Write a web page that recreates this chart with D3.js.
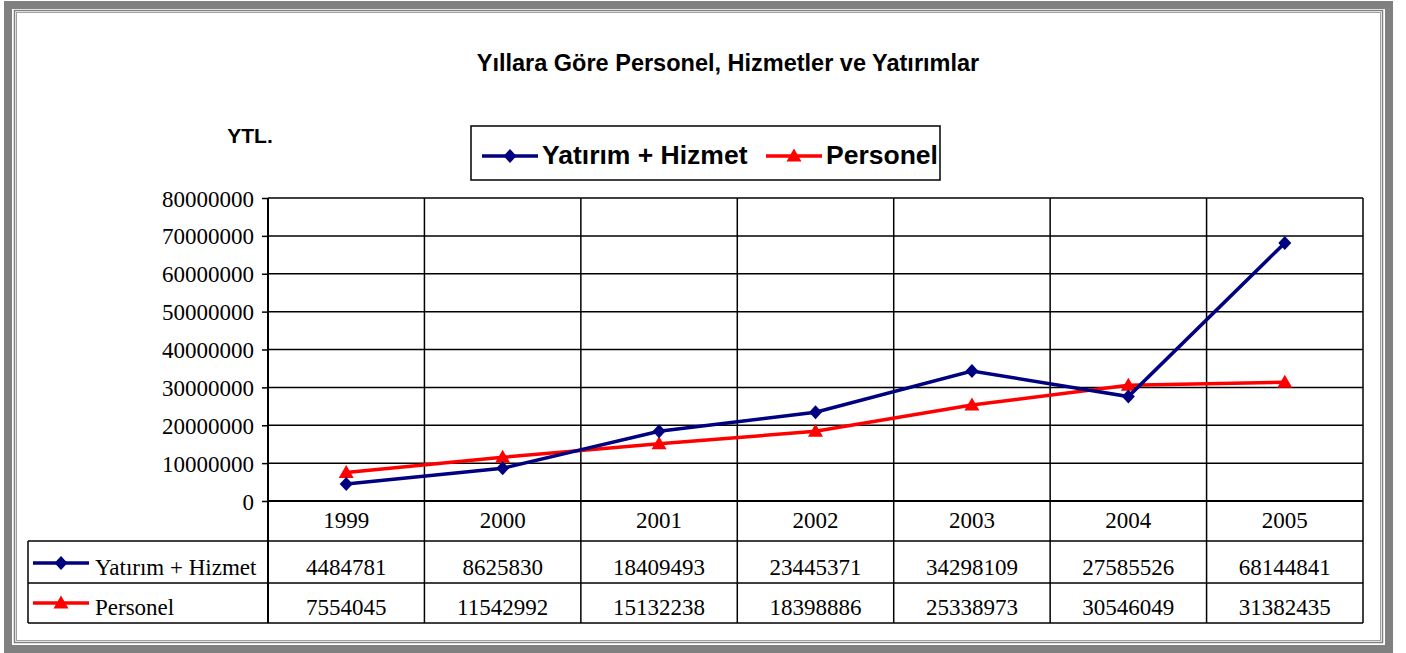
<!DOCTYPE html>
<html><head><meta charset="utf-8">
<script src="https://cdn.jsdelivr.net/npm/d3@7/dist/d3.min.js"></script>
<style>body{margin:0;background:#fff}svg{display:block}
.serif{font-family:"Liberation Serif",Tinos,"Times New Roman",Times,"DejaVu Serif",serif}
.sans{font-family:"Liberation Sans",Arimo,Arial,Helvetica,sans-serif}
</style>
</head><body>
<svg id="c" width="1406" height="653"></svg>
<script>
const years = ["1999","2000","2001","2002","2003","2004","2005"];
const yatirimHizmet = [4484781, 8625830, 18409493, 23445371, 34298109, 27585526, 68144841];
const personel = [7554045, 11542992, 15132238, 18398886, 25338973, 30546049, 31382435];
const seriesNames = ["Yatırım + Hizmet", "Personel"];
const yTicks = [0,10000000,20000000,30000000,40000000,50000000,60000000,70000000,80000000];
const titleText = "Yıllara Göre Personel, Hizmetler ve Yatırımlar";
const unitText = "YTL.";

const svg = d3.select("#c");
const navy = "#000080", red = "#ff0000";

// Frame
svg.append("rect").attr("x",8).attr("y",5).attr("width",1381).attr("height",644)
  .attr("fill","none").attr("stroke","#808080").attr("stroke-width",8);
svg.append("rect").attr("x",14.5).attr("y",10.5).attr("width",1368).attr("height",632)
  .attr("fill","none").attr("stroke","#808080").attr("stroke-width",1.5);
svg.append("rect").attr("x",16.5).attr("y",12.5).attr("width",1364).attr("height",628)
  .attr("fill","none").attr("stroke","#a0a0a0").attr("stroke-width",1);

const L = 268, R = 1363, T = 198, B = 501;
const x = d3.scaleBand().domain(years).range([L, R]);
const y = d3.scaleLinear().domain([0, 80000000]).range([B, T]);

// Title
svg.append("text").attr("class","sans").attr("x",728).attr("y",71).attr("text-anchor","middle")
  .attr("font-weight","bold").attr("font-size",23.5).text(titleText);
svg.append("text").attr("class","sans").attr("x",250).attr("y",143).attr("text-anchor","middle")
  .attr("font-weight","bold").attr("font-size",21).text(unitText);

// Gridlines
svg.append("g").selectAll("line").data(yTicks).join("line")
  .attr("x1",L).attr("x2",R).attr("y1",d=>y(d)).attr("y2",d=>y(d))
  .attr("stroke","#000").attr("stroke-width",d=>d===0?2:1.5);
const bounds = years.map(d=>x(d)).concat([R]);
svg.append("g").selectAll("line").data(bounds).join("line")
  .attr("x1",d=>d).attr("x2",d=>d).attr("y1",T).attr("y2",623)
  .attr("stroke","#000").attr("stroke-width",d=>d===L?2:1.5);

// Y axis
const yAxis = svg.append("g").attr("transform",`translate(${L},0)`)
  .call(d3.axisLeft(y).tickValues(yTicks).tickSize(6).tickPadding(8).tickFormat(d3.format("d")));
yAxis.select(".domain").remove();
yAxis.selectAll("line").attr("stroke","#000").attr("stroke-width",1.5);
yAxis.selectAll("text").attr("class","serif").attr("font-family",null).attr("font-size",23).attr("fill","#000").attr("dy","0.35em");

// Year labels
svg.append("g").selectAll("text").data(years).join("text").attr("class","serif")
  .attr("x",d=>x(d)+x.bandwidth()/2).attr("y",528).attr("text-anchor","middle")
  .attr("font-size",23).text(d=>d);

// Table lines
[541,583,623].forEach(yy=>{
  svg.append("line").attr("x1",28).attr("x2",R).attr("y1",yy).attr("y2",yy)
    .attr("stroke","#000").attr("stroke-width",1.5);
});
svg.append("line").attr("x1",28).attr("x2",28).attr("y1",541).attr("y2",623).attr("stroke","#000").attr("stroke-width",1.5);

const diamondType = {draw(ctx){ ctx.moveTo(0,-7); ctx.lineTo(6.5,0); ctx.lineTo(0,7); ctx.lineTo(-6.5,0); ctx.closePath(); }};
const triangleType = {draw(ctx){ ctx.moveTo(0,-7.5); ctx.lineTo(7.5,5.5); ctx.lineTo(-7.5,5.5); ctx.closePath(); }};
const diamond = d3.symbol().type(diamondType);
const triangle = d3.symbol().type(triangleType);

const series = [
  {name: seriesNames[0], values: yatirimHizmet, color: navy, sym: diamond, rowY: 567},
  {name: seriesNames[1], values: personel, color: red, sym: triangle, rowY: 607}
];

// Table rows
series.forEach(s=>{
  svg.append("line").attr("x1",33).attr("x2",89).attr("y1",s.rowY-4).attr("y2",s.rowY-4)
    .attr("stroke",s.color).attr("stroke-width",3.5);
  svg.append("path").attr("d",s.sym()).attr("transform",`translate(61,${s.rowY-4})`).attr("fill",s.color);
  svg.append("text").attr("class","serif").attr("x",95).attr("y",s.rowY+8).attr("font-size",23).text(s.name);
  svg.append("g").selectAll("text").data(s.values).join("text").attr("class","serif")
    .attr("x",(d,i)=>x(years[i])+x.bandwidth()/2).attr("y",s.rowY+8).attr("text-anchor","middle")
    .attr("font-size",23).text(d=>d);
});

// Lines
const line = d3.line().x((d,i)=>x(years[i])+x.bandwidth()/2).y(d=>y(d));
[series[1], series[0]].forEach(s=>{
  svg.append("path").datum(s.values).attr("d",line).attr("fill","none")
    .attr("stroke",s.color).attr("stroke-width",3.5);
  svg.append("g").selectAll("path").data(s.values).join("path")
    .attr("d",s.sym()).attr("fill",s.color)
    .attr("transform",(d,i)=>`translate(${x(years[i])+x.bandwidth()/2},${y(d)})`);
});

// Legend
svg.append("rect").attr("x",471).attr("y",126).attr("width",469).attr("height",54)
  .attr("fill","#fff").attr("stroke","#000").attr("stroke-width",1.5);
const legItems = [
  {s: series[0], x0: 482},
  {s: series[1], x0: 766}
];
legItems.forEach(it=>{
  svg.append("line").attr("x1",it.x0).attr("x2",it.x0+56).attr("y1",156).attr("y2",156)
    .attr("stroke",it.s.color).attr("stroke-width",3.5);
  svg.append("path").attr("d",it.s.sym()).attr("transform",`translate(${it.x0+28},156)`).attr("fill",it.s.color);
  svg.append("text").attr("class","sans").attr("x",it.x0+60).attr("y",164).attr("font-weight","bold")
    .attr("font-size",26.5).text(it.s.name);
});
</script>
</body></html>
